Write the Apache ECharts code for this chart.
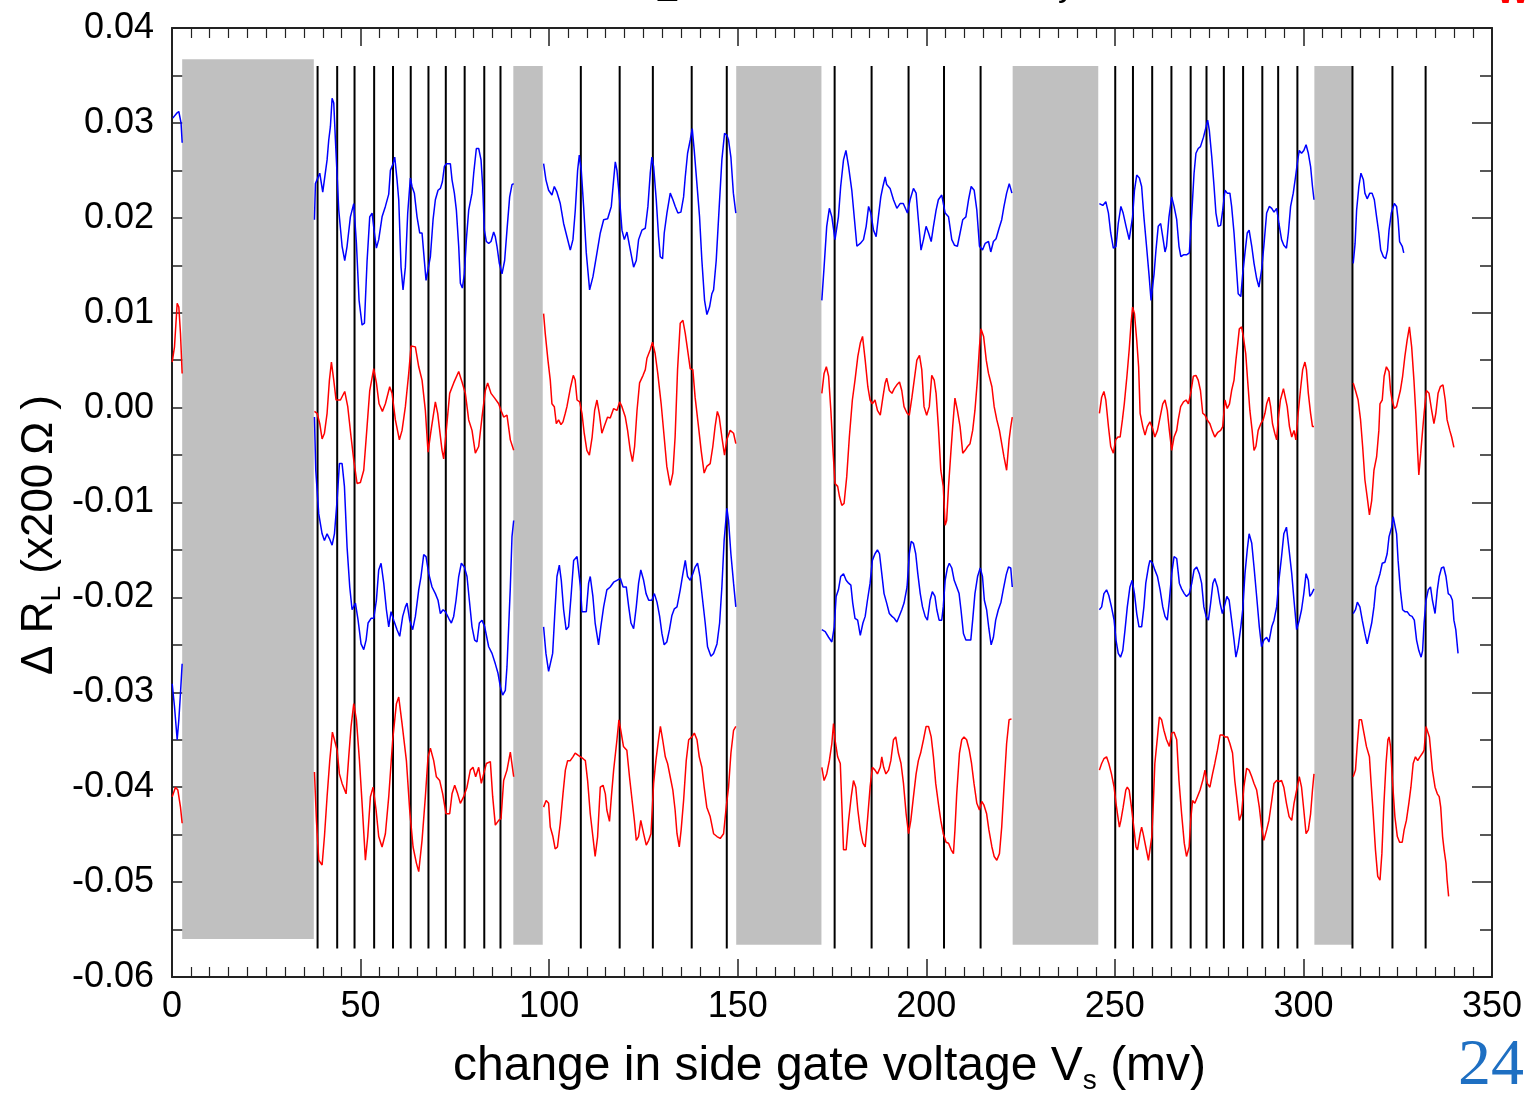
<!DOCTYPE html>
<html><head><meta charset="utf-8">
<script src="https://cdn.jsdelivr.net/npm/echarts@6/dist/echarts.min.js"></script>
<style>html,body{margin:0;padding:0;background:#fff}#c{width:1527px;height:1102px}</style>
</head><body><div id="c"></div>
<script>
// ---- axis ticks ----
const xTicks = [0, 50, 100, 150, 200, 250, 300, 350];
const yTicks = [-0.06, -0.05, -0.04, -0.03, -0.02, -0.01, 0.00, 0.01, 0.02, 0.03, 0.04];

// ---- shaded (gray) bands: [xStart, xEnd, yTop, yBottom] ----
const grayBands = [
  [2.7, 37.6, 0.0367, -0.0560],
  [90.5, 98.3, 0.0360, -0.0566],
  [149.6, 172.2, 0.0360, -0.0566],
  [222.9, 245.6, 0.0360, -0.0566],
  [302.9, 313.0, 0.0360, -0.0566]
];

// ---- vertical marker lines (x positions) ----
const vLines = [38.6, 43.8, 48.4, 53.6, 58.6, 63.3, 68.0, 72.6, 77.6, 82.8, 87.1,
  108.4, 118.7, 127.5, 137.8, 147.1, 175.7, 185.5, 195.3, 204.7, 214.4,
  250.1, 254.8, 259.9, 265.0, 270.1, 274.3, 278.9, 284.0, 289.1, 293.3, 298.4,
  313.0, 323.6, 332.4];
const vLineTop = 0.0360;
const vLineBottom = -0.0570;

// ---- curve 1 (blue, upper) ----
const blueTop0 = [[0.2,0.0305],[1.2,0.0310],[1.8,0.0312],[2.4,0.0300],[2.7,0.0279]];
const blueTop1 = [[37.77,0.0198],[38.03,0.0236],[39.18,0.0247],[39.97,0.0227],[40.42,0.0226],[41.12,0.0261],[41.56,0.0282],[42.0,0.0296],[42.45,0.0326],[42.89,0.0321],[43.33,0.0282],[44.22,0.0208],[45.1,0.0170],[45.8,0.0155],[46.42,0.0170],[47.3,0.0201],[48.19,0.0215],[48.9,0.0173],[49.6,0.0113],[50.4,0.0087],[51.02,0.0089],[51.72,0.0154],[52.43,0.0201],[53.05,0.0205],[53.67,0.0184],[54.2,0.0168],[54.81,0.0177],[55.7,0.0201],[56.58,0.0212],[57.47,0.0225],[57.91,0.0250],[58.62,0.0257],[59.06,0.0264],[59.67,0.0240],[60.12,0.0219],[60.73,0.0148],[61.26,0.0124],[61.88,0.0148],[62.5,0.0205],[63.2,0.0242],[63.64,0.0233],[64.26,0.0226],[64.97,0.0201],[65.68,0.0184],[66.3,0.0184],[66.74,0.0163],[67.36,0.0134],[67.89,0.0134],[68.51,0.0159],[69.22,0.0198],[69.83,0.0219],[70.54,0.0229],[71.16,0.0231],[71.69,0.0238],[72.22,0.0254],[72.75,0.0257],[73.81,0.0257],[74.25,0.0240],[74.87,0.0226],[75.4,0.0208],[76.02,0.0170],[76.46,0.0131],[76.99,0.0126],[77.52,0.0141],[78.05,0.0177],[78.67,0.0208],[79.55,0.0226],[80.0,0.0247],[80.7,0.0273],[81.32,0.0273],[81.94,0.0261],[82.38,0.0233],[82.82,0.0187],[83.35,0.0175],[83.97,0.0173],[84.59,0.0175],[85.29,0.0185],[85.73,0.0180],[86.17,0.0170],[86.79,0.0152],[87.5,0.0141],[88.2,0.0155],[88.82,0.0187],[89.53,0.0222],[90.15,0.0235],[90.6,0.0236]];
const blueTop2 = [[98.53,0.0257],[99.15,0.0240],[99.86,0.0229],[100.74,0.0224],[101.37,0.0233],[102.07,0.0227],[102.95,0.0215],[103.84,0.0194],[104.72,0.0180],[105.61,0.0166],[106.31,0.0177],[106.93,0.0208],[107.55,0.0250],[108.0,0.0266],[108.52,0.0250],[109.14,0.0212],[109.85,0.0163],[110.73,0.0124],[111.62,0.0138],[112.68,0.0163],[113.56,0.0184],[114.45,0.0198],[115.51,0.0199],[116.48,0.0212],[117.1,0.0240],[117.54,0.0259],[117.98,0.0250],[118.69,0.0219],[119.31,0.0187],[119.93,0.0177],[120.63,0.0185],[121.34,0.0170],[122.4,0.0148],[123.1,0.0155],[123.72,0.0177],[124.6,0.0187],[125.49,0.0189],[126.19,0.0212],[126.81,0.0247],[127.25,0.0264],[127.7,0.0254],[128.4,0.0219],[129.02,0.0180],[129.46,0.0159],[130.08,0.0157],[130.52,0.0184],[131.23,0.0205],[132.11,0.0226],[132.82,0.0219],[133.44,0.0212],[134.14,0.0205],[134.94,0.0206],[135.65,0.0222],[136.09,0.0243],[136.71,0.0268],[137.41,0.0282],[137.94,0.0294],[138.47,0.0271],[139.18,0.0236],[139.88,0.0201],[140.5,0.0155],[141.21,0.0113],[141.83,0.0098],[142.53,0.0106],[143.15,0.0120],[143.6,0.0124],[144.3,0.0155],[145.1,0.0212],[145.8,0.0261],[146.51,0.0289],[147.13,0.0287],[147.57,0.0282],[148.19,0.0264],[148.85,0.0226],[149.5,0.0205]];
const blueTop3 = [[172.3,0.0113],[172.9,0.0148],[173.6,0.0191],[174.3,0.0210],[174.96,0.0201],[175.8,0.0177],[176.7,0.0201],[177.3,0.0233],[178.05,0.0261],[178.7,0.0271],[179.4,0.0254],[180.25,0.0229],[180.96,0.0198],[181.6,0.0170],[182.5,0.0173],[183.35,0.0177],[184.06,0.0191],[184.7,0.0212],[185.3,0.0205],[186.0,0.0187],[186.7,0.0180],[187.3,0.0201],[187.94,0.0222],[188.5,0.0233],[189.1,0.0243],[189.5,0.0235],[190.4,0.0231],[191.3,0.0219],[192.2,0.0210],[193.05,0.0215],[193.9,0.0215],[195.0,0.0205],[195.7,0.0219],[196.6,0.0231],[197.3,0.0226],[197.9,0.0198],[198.6,0.0166],[199.25,0.0177],[199.95,0.0191],[200.6,0.0184],[201.3,0.0175],[201.9,0.0191],[202.6,0.0208],[203.2,0.0219],[204.1,0.0224],[205.0,0.0205],[205.9,0.0201],[206.76,0.0177],[207.5,0.0171],[208.25,0.0170],[208.96,0.0184],[209.67,0.0198],[210.5,0.0201],[211.2,0.0219],[211.9,0.0233],[212.7,0.0229],[213.4,0.0208],[214.1,0.0170],[214.9,0.0166],[215.6,0.0173],[216.5,0.0175],[217.1,0.0164],[217.8,0.0175],[218.5,0.0178],[219.3,0.0189],[220.0,0.0198],[220.6,0.0212],[221.3,0.0226],[222.0,0.0236],[222.7,0.0226]];
const blueTop4 = [[245.9,0.0215],[246.8,0.0213],[247.6,0.0217],[248.3,0.0205],[248.9,0.0184],[249.6,0.0168],[250.3,0.0170],[250.9,0.0194],[251.6,0.0212],[252.2,0.0205],[252.97,0.0191],[253.8,0.0177],[254.3,0.0178],[254.7,0.0201],[255.2,0.0229],[255.8,0.0245],[256.5,0.0242],[257.1,0.0233],[257.7,0.0201],[258.4,0.0170],[259.1,0.0138],[259.6,0.0113],[259.9,0.0124],[260.4,0.0141],[260.9,0.0166],[261.5,0.0191],[262.15,0.0194],[262.7,0.0180],[263.3,0.0164],[263.7,0.0170],[264.35,0.0201],[265.07,0.0222],[265.7,0.0212],[266.4,0.0198],[267.0,0.0170],[267.5,0.0159],[268.2,0.0161],[269.0,0.0161],[269.75,0.0163],[270.4,0.0205],[271.0,0.0247],[271.5,0.0268],[272.1,0.0273],[272.7,0.0275],[273.5,0.0285],[274.2,0.0296],[274.6,0.0303],[275.05,0.0292],[275.7,0.0264],[276.3,0.0233],[276.8,0.0205],[277.4,0.0191],[278.05,0.0192],[278.6,0.0208],[279.2,0.0229],[279.8,0.0226],[280.5,0.0226],[280.96,0.0212],[281.6,0.0184],[282.1,0.0155],[282.7,0.0120],[283.4,0.0117],[283.9,0.0141],[284.5,0.0163],[285.1,0.0184],[285.6,0.0187],[286.3,0.0170],[286.9,0.0152],[287.6,0.0136],[288.2,0.0127],[288.9,0.0145],[289.5,0.0170],[290.25,0.0205],[290.95,0.0212],[291.6,0.0210],[292.2,0.0206],[292.9,0.0210],[293.5,0.0194],[294.2,0.0177],[294.8,0.0171],[295.5,0.0168],[296.0,0.0184],[296.6,0.0212],[297.3,0.0226],[297.9,0.0243],[298.5,0.0261],[298.9,0.0271],[299.5,0.0268],[300.1,0.0271],[300.7,0.0277],[301.3,0.0268],[301.9,0.0254],[302.4,0.0233],[302.8,0.0219]];
const blueTop5 = [[313.2,0.0152],[313.7,0.0173],[314.1,0.0208],[314.7,0.0233],[315.25,0.0247],[315.9,0.0240],[316.3,0.0226],[316.9,0.0220],[317.6,0.0226],[318.2,0.0226],[318.8,0.0219],[319.4,0.0201],[320.0,0.0184],[320.5,0.0166],[321.2,0.0159],[321.8,0.0157],[322.3,0.0166],[322.7,0.0187],[323.3,0.0205],[324.1,0.0215],[324.7,0.0212],[325.1,0.0198],[325.5,0.0175],[326.2,0.0170],[326.6,0.0163]];

// ---- curve 2 (red, upper) ----
const redTop0 = [[0.05,0.0048],[0.66,0.0064],[1.37,0.0110],[1.81,0.0106],[2.25,0.0078],[2.69,0.0036]];
const redTop1 = [[37.77,-0.0004],[38.47,-0.0006],[39.18,-0.0017],[39.8,-0.0033],[40.42,-0.0027],[41.12,-0.0006],[41.74,0.0029],[42.27,0.0048],[42.89,0.0029],[43.5,0.0008],[44.66,0.0008],[45.8,0.0017],[46.6,0.0001],[47.48,-0.0031],[48.19,-0.0055],[49.07,-0.0080],[49.95,-0.0079],[50.84,-0.0066],[51.72,-0.0020],[52.43,0.0018],[53.49,0.0041],[54.2,0.0026],[54.9,0.0004],[55.79,-0.0004],[56.58,0.0004],[57.73,0.0022],[58.35,0.0015],[59.23,-0.0013],[60.29,-0.0034],[61.0,-0.0024],[61.88,0.0001],[62.77,0.0036],[63.39,0.0065],[64.53,0.0064],[65.42,0.0043],[66.3,0.0029],[67.18,-0.0003],[67.89,-0.0047],[68.69,-0.0024],[69.83,0.0006],[70.45,-0.0006],[71.6,-0.0045],[72.04,-0.0054],[72.66,-0.0027],[73.63,0.0015],[74.69,0.0026],[76.02,0.0038],[76.9,0.0027],[77.78,0.0015],[78.67,-0.0013],[79.55,-0.0024],[80.43,-0.0048],[81.32,-0.0041],[82.2,-0.0010],[83.08,0.0018],[83.7,0.0026],[84.59,0.0015],[85.56,0.0010],[86.62,0.0004],[87.24,-0.0003],[87.94,-0.0010],[88.82,-0.0008],[89.71,-0.0034],[90.6,-0.0045]];
const redTop2 = [[98.53,0.0099],[98.97,0.0078],[99.68,0.0050],[100.3,0.0029],[100.74,0.0004],[101.37,0.0001],[101.9,-0.0017],[102.5,-0.0013],[103.14,-0.0018],[103.67,-0.0015],[104.28,-0.0006],[104.72,0.0001],[105.7,0.0022],[106.4,0.0034],[106.9,0.0029],[107.4,0.0008],[108.1,0.0006],[108.7,-0.0006],[109.3,-0.0027],[110.0,-0.0045],[110.67,-0.0050],[111.4,-0.0031],[112.06,-0.0003],[112.68,0.0008],[113.3,-0.0006],[113.98,-0.0027],[114.6,-0.0020],[115.5,-0.0010],[116.2,-0.0011],[117.1,-0.0001],[117.98,-0.0003],[118.7,0.0006],[119.3,0.0001],[120.2,-0.0010],[120.8,-0.0024],[121.5,-0.0045],[122.1,-0.0057],[122.66,-0.0041],[123.3,-0.0003],[123.98,0.0026],[124.9,0.0034],[125.5,0.0040],[125.93,0.0052],[126.8,0.0061],[127.4,0.0069],[128.1,0.0057],[128.8,0.0036],[129.7,0.0004],[130.5,-0.0031],[131.2,-0.0062],[132.1,-0.0082],[132.8,-0.0069],[133.4,-0.0031],[134.05,0.0040],[134.76,0.0089],[135.47,0.0092],[136.1,0.0078],[136.7,0.0061],[137.4,0.0041],[138.1,0.0040],[138.7,0.0011],[139.6,-0.0020],[140.3,-0.0045],[141.1,-0.0069],[141.8,-0.0062],[142.7,-0.0059],[143.4,-0.0041],[144.0,-0.0020],[144.6,-0.0004],[145.1,-0.0010],[145.8,-0.0031],[146.5,-0.0050],[147.1,-0.0034],[148.0,-0.0024],[148.9,-0.0027],[149.5,-0.0038]];
const redTop3 = [[172.3,0.0015],[172.9,0.0036],[173.5,0.0043],[174.1,0.0033],[174.7,-0.0003],[175.2,-0.0041],[175.8,-0.0080],[176.5,-0.0083],[177.0,-0.0094],[177.6,-0.0103],[178.2,-0.0101],[178.9,-0.0073],[179.6,-0.0031],[180.4,0.0008],[181.1,0.0029],[181.85,0.0054],[182.5,0.0068],[183.1,0.0075],[183.8,0.0050],[184.5,0.0022],[185.1,0.0008],[185.7,0.0004],[186.4,0.0008],[187.05,-0.0003],[187.8,-0.0008],[188.5,0.0011],[189.1,0.0026],[189.5,0.0031],[190.2,0.0018],[190.9,0.0015],[191.5,0.0020],[192.2,0.0024],[192.9,0.0027],[193.5,0.0018],[194.1,0.0001],[194.9,-0.0006],[195.5,-0.0008],[196.2,0.0011],[196.8,0.0029],[197.5,0.0050],[198.2,0.0055],[198.8,0.0040],[199.4,0.0001],[200.1,-0.0008],[200.8,0.0001],[201.45,0.0034],[202.1,0.0029],[202.6,0.0015],[203.2,-0.0020],[203.85,-0.0066],[204.5,-0.0083],[205.0,-0.0124],[205.4,-0.0119],[205.9,-0.0083],[206.5,-0.0048],[207.0,-0.0020],[207.6,0.0010],[208.25,-0.0003],[208.96,-0.0020],[209.67,-0.0048],[210.3,-0.0045],[210.95,-0.0041],[211.6,-0.0038],[212.3,-0.0024],[212.9,-0.0003],[213.55,0.0029],[214.1,0.0064],[214.5,0.0083],[215.2,0.0075],[215.9,0.0050],[216.5,0.0036],[217.4,0.0022],[218.0,0.0001],[218.7,-0.0013],[219.4,-0.0024],[220.0,-0.0038],[220.6,-0.0052],[221.3,-0.0066],[221.95,-0.0034],[222.4,-0.0020],[222.8,-0.0010]];
const redTop4 = [[245.9,-0.0006],[246.5,0.0011],[247.1,0.0017],[247.6,0.0008],[248.3,-0.0020],[248.9,-0.0041],[249.6,-0.0048],[250.2,-0.0034],[250.8,-0.0031],[251.4,-0.0031],[252.0,-0.0013],[252.5,0.0004],[253.2,0.0033],[253.8,0.0061],[254.3,0.0089],[254.7,0.0106],[255.2,0.0099],[255.8,0.0071],[256.3,0.0043],[256.7,-0.0006],[257.4,-0.0020],[258.0,-0.0029],[258.6,-0.0020],[259.3,-0.0015],[260.0,-0.0022],[260.6,-0.0031],[261.3,-0.0024],[262.0,-0.0010],[262.7,0.0004],[263.3,0.0008],[263.9,-0.0003],[264.45,-0.0024],[265.07,-0.0045],[265.7,-0.0031],[266.4,-0.0024],[266.8,-0.0013],[267.45,0.0001],[268.2,0.0006],[268.9,0.0008],[269.5,0.0004],[270.1,0.0015],[270.8,0.0033],[271.5,0.0034],[272.1,0.0029],[272.7,0.0018],[273.3,-0.0006],[273.9,-0.0008],[274.5,-0.0013],[275.2,-0.0017],[275.8,-0.0024],[276.5,-0.0031],[277.3,-0.0026],[278.05,-0.0024],[278.6,-0.0020],[279.2,0.0008],[279.8,-0.0001],[280.4,0.0004],[280.96,0.0018],[281.6,0.0029],[282.1,0.0050],[282.6,0.0068],[283.0,0.0083],[283.6,0.0085],[284.05,0.0075],[284.7,0.0057],[285.2,0.0029],[285.8,-0.0003],[286.4,-0.0024],[286.9,-0.0045],[287.4,-0.0041],[288.0,-0.0024],[288.7,-0.0017],[289.3,-0.0013],[289.8,-0.0006],[290.25,0.0004],[290.85,0.0011],[291.3,0.0001],[291.8,-0.0017],[292.4,-0.0027],[292.9,-0.0034],[293.3,-0.0013],[293.9,0.0008],[294.7,0.0020],[295.1,0.0018],[295.7,0.0001],[296.3,-0.0020],[296.9,-0.0031],[297.5,-0.0024],[298.0,-0.0034],[298.6,-0.0006],[299.3,0.0022],[299.8,0.0040],[300.4,0.0048],[300.8,0.0040],[301.3,0.0015],[301.9,-0.0006],[302.4,-0.0020],[302.8,-0.0020]];
const redTop5 = [[313.2,0.0026],[313.8,0.0018],[314.5,0.0008],[315.15,-0.0013],[315.7,-0.0041],[316.3,-0.0076],[316.9,-0.0094],[317.5,-0.0113],[318.1,-0.0098],[318.7,-0.0066],[319.4,-0.0052],[320.0,-0.0024],[320.3,0.0004],[320.9,0.0008],[321.4,0.0033],[322.0,0.0043],[322.7,0.0038],[323.1,0.0018],[323.5,0.0008],[324.1,-0.0001],[324.7,0.0001],[325.1,0.0008],[325.7,0.0018],[326.3,0.0033],[326.9,0.0054],[327.5,0.0071],[328.1,0.0085],[328.7,0.0064],[329.3,0.0029],[329.8,-0.0006],[330.3,-0.0048],[330.6,-0.0071],[331.1,-0.0048],[331.6,-0.0024],[332.0,-0.0006],[332.6,0.0018],[333.3,0.0015],[334.0,-0.0003],[334.6,-0.0017],[335.1,-0.0006],[335.7,0.0015],[336.3,0.0022],[337.0,0.0024],[337.6,0.0008],[338.1,-0.0013],[338.8,-0.0024],[339.3,-0.0031],[339.9,-0.0042]];

// ---- curve 3 (blue, lower) ----
const blueLow0 = [[0.05,-0.0291],[0.66,-0.0315],[1.37,-0.0350],[1.81,-0.0329],[2.25,-0.0301],[2.69,-0.0270]];
const blueLow1 = [[37.77,-0.0010],[38.12,-0.0066],[38.91,-0.0112],[39.8,-0.0133],[40.42,-0.0140],[41.12,-0.0133],[41.74,-0.0138],[42.45,-0.0145],[43.07,-0.0133],[43.77,-0.0098],[44.39,-0.0059],[45.1,-0.0059],[45.72,-0.0083],[46.42,-0.0147],[47.13,-0.0189],[47.75,-0.0213],[48.63,-0.0206],[49.34,-0.0224],[50.13,-0.0249],[50.84,-0.0255],[51.46,-0.0245],[51.99,-0.0227],[52.79,-0.0222],[53.49,-0.0222],[54.2,-0.0203],[54.81,-0.0171],[55.43,-0.0164],[56.14,-0.0185],[56.85,-0.0213],[57.47,-0.0231],[58.08,-0.0215],[58.79,-0.0224],[59.67,-0.0234],[60.38,-0.0241],[61.17,-0.0220],[61.88,-0.0210],[62.32,-0.0206],[63.02,-0.0224],[63.82,-0.0234],[64.53,-0.0220],[65.42,-0.0192],[66.03,-0.0178],[66.74,-0.0155],[67.36,-0.0157],[68.07,-0.0175],[68.95,-0.0189],[69.83,-0.0196],[70.54,-0.0203],[71.16,-0.0217],[71.87,-0.0213],[72.48,-0.0215],[73.37,-0.0222],[74.07,-0.0227],[74.69,-0.0220],[75.31,-0.0203],[76.02,-0.0178],[76.72,-0.0164],[77.52,-0.0168],[78.22,-0.0178],[78.84,-0.0203],[79.55,-0.0231],[80.25,-0.0245],[80.87,-0.0247],[81.49,-0.0227],[82.2,-0.0224],[82.91,-0.0231],[83.97,-0.0252],[84.85,-0.0259],[85.73,-0.0270],[86.44,-0.0280],[87.06,-0.0294],[87.68,-0.0303],[88.38,-0.0298],[88.82,-0.0273],[89.27,-0.0231],[89.71,-0.0189],[90.15,-0.0136],[90.6,-0.0119]];
const blueLow2 = [[98.53,-0.0231],[99.15,-0.0259],[99.86,-0.0278],[100.3,-0.0280],[100.93,-0.0259],[101.46,-0.0220],[102.07,-0.0178],[102.7,-0.0166],[103.22,-0.0182],[103.84,-0.0213],[104.5,-0.0234],[105.16,-0.0231],[105.8,-0.0199],[106.5,-0.0161],[107.4,-0.0157],[107.8,-0.0159],[108.3,-0.0189],[108.7,-0.0215],[109.3,-0.0215],[109.85,-0.0215],[110.47,-0.0185],[110.9,-0.0178],[111.6,-0.0199],[112.2,-0.0227],[113.1,-0.0250],[113.7,-0.0231],[114.45,-0.0210],[115.3,-0.0192],[116.2,-0.0189],[117.1,-0.0184],[117.98,-0.0182],[118.9,-0.0180],[119.6,-0.0189],[120.45,-0.0189],[121.1,-0.0210],[121.7,-0.0227],[122.4,-0.0233],[123.1,-0.0210],[123.72,-0.0185],[124.3,-0.0171],[125.05,-0.0182],[125.7,-0.0196],[126.4,-0.0203],[127.25,-0.0203],[127.9,-0.0196],[128.6,-0.0205],[129.3,-0.0220],[129.9,-0.0238],[130.5,-0.0250],[131.2,-0.0247],[131.9,-0.0234],[132.55,-0.0219],[133.2,-0.0212],[133.9,-0.0210],[134.76,-0.0192],[135.47,-0.0175],[136.1,-0.0161],[136.7,-0.0178],[137.4,-0.0182],[138.1,-0.0175],[138.7,-0.0168],[139.35,-0.0164],[140.0,-0.0178],[140.7,-0.0203],[141.38,-0.0227],[142.0,-0.0252],[142.9,-0.0262],[143.6,-0.0259],[144.5,-0.0249],[145.2,-0.0227],[145.8,-0.0189],[146.4,-0.0140],[147.13,-0.0106],[147.57,-0.0119],[148.19,-0.0154],[148.9,-0.0185],[149.5,-0.0210]];
const blueLow3 = [[172.3,-0.0234],[173.2,-0.0236],[174.1,-0.0242],[174.96,-0.0247],[175.6,-0.0231],[176.1,-0.0199],[176.7,-0.0192],[177.3,-0.0178],[178.05,-0.0175],[178.75,-0.0182],[179.4,-0.0185],[180.0,-0.0187],[180.5,-0.0206],[181.1,-0.0222],[181.8,-0.0224],[182.5,-0.0240],[183.2,-0.0227],[183.8,-0.0220],[184.4,-0.0203],[185.1,-0.0185],[185.7,-0.0161],[186.4,-0.0154],[187.05,-0.0150],[187.6,-0.0154],[188.2,-0.0175],[188.8,-0.0196],[189.5,-0.0206],[190.2,-0.0217],[190.9,-0.0220],[191.5,-0.0222],[192.2,-0.0226],[192.9,-0.0219],[193.5,-0.0213],[194.1,-0.0206],[194.9,-0.0189],[195.5,-0.0154],[196.0,-0.0141],[196.6,-0.0143],[197.2,-0.0154],[197.75,-0.0175],[198.4,-0.0196],[199.0,-0.0210],[199.7,-0.0220],[200.3,-0.0224],[201.0,-0.0203],[201.6,-0.0194],[202.3,-0.0199],[202.8,-0.0213],[203.4,-0.0224],[204.1,-0.0224],[204.5,-0.0210],[205.0,-0.0182],[205.6,-0.0169],[206.1,-0.0164],[206.76,-0.0169],[207.4,-0.0182],[208.07,-0.0189],[208.7,-0.0196],[209.2,-0.0213],[209.85,-0.0238],[210.5,-0.0245],[211.2,-0.0245],[211.8,-0.0245],[212.3,-0.0224],[212.9,-0.0196],[213.6,-0.0178],[214.3,-0.0169],[214.9,-0.0178],[215.4,-0.0203],[216.0,-0.0213],[216.6,-0.0233],[217.2,-0.0250],[217.8,-0.0242],[218.4,-0.0224],[219.1,-0.0213],[219.8,-0.0205],[220.4,-0.0192],[221.2,-0.0176],[221.8,-0.0168],[222.4,-0.0169],[222.8,-0.0189]];
const blueLow4 = [[245.9,-0.0213],[246.5,-0.0210],[247.1,-0.0196],[247.8,-0.0192],[248.4,-0.0198],[249.1,-0.0210],[249.8,-0.0224],[250.3,-0.0245],[250.9,-0.0259],[251.5,-0.0263],[252.1,-0.0256],[252.7,-0.0234],[253.3,-0.0210],[254.0,-0.0189],[254.6,-0.0182],[255.2,-0.0196],[255.8,-0.0217],[256.4,-0.0231],[257.1,-0.0231],[257.7,-0.0210],[258.2,-0.0185],[258.9,-0.0168],[259.3,-0.0161],[260.0,-0.0164],[260.6,-0.0171],[261.3,-0.0178],[262.0,-0.0192],[262.7,-0.0210],[263.3,-0.0220],[263.9,-0.0224],[264.45,-0.0203],[265.07,-0.0175],[265.7,-0.0157],[266.4,-0.0159],[267.1,-0.0185],[267.7,-0.0191],[268.4,-0.0196],[269.0,-0.0199],[269.75,-0.0196],[270.4,-0.0185],[271.0,-0.0171],[271.7,-0.0168],[272.4,-0.0175],[273.0,-0.0185],[273.6,-0.0210],[274.2,-0.0220],[274.8,-0.0224],[275.4,-0.0206],[276.0,-0.0185],[276.5,-0.0180],[277.2,-0.0189],[277.9,-0.0206],[278.5,-0.0217],[279.0,-0.0210],[279.7,-0.0199],[280.3,-0.0203],[280.96,-0.0224],[281.6,-0.0245],[282.1,-0.0263],[282.7,-0.0252],[283.4,-0.0231],[283.9,-0.0213],[284.5,-0.0175],[285.1,-0.0150],[285.6,-0.0133],[286.3,-0.0143],[286.9,-0.0168],[287.6,-0.0199],[288.3,-0.0231],[288.9,-0.0252],[289.5,-0.0245],[290.25,-0.0242],[290.85,-0.0247],[291.6,-0.0231],[292.2,-0.0224],[292.9,-0.0210],[293.5,-0.0182],[294.2,-0.0157],[294.8,-0.0133],[295.5,-0.0126],[296.2,-0.0150],[296.9,-0.0175],[297.5,-0.0203],[298.2,-0.0234],[298.9,-0.0224],[299.5,-0.0213],[300.1,-0.0196],[300.7,-0.0175],[301.3,-0.0182],[301.7,-0.0199],[302.2,-0.0196],[302.8,-0.0191]];
const blueLow5 = [[313.2,-0.0217],[313.8,-0.0213],[314.3,-0.0205],[314.97,-0.0210],[315.6,-0.0224],[316.3,-0.0238],[316.9,-0.0249],[317.5,-0.0238],[318.1,-0.0227],[318.7,-0.0210],[319.2,-0.0189],[319.8,-0.0182],[320.3,-0.0175],[320.9,-0.0164],[321.6,-0.0163],[322.2,-0.0154],[322.7,-0.0136],[323.4,-0.0126],[323.8,-0.0115],[324.25,-0.0113],[324.7,-0.0133],[325.1,-0.0161],[325.7,-0.0192],[326.3,-0.0213],[326.9,-0.0215],[327.5,-0.0215],[328.2,-0.0219],[328.8,-0.0220],[329.4,-0.0224],[330.0,-0.0245],[330.6,-0.0256],[331.2,-0.0263],[331.6,-0.0256],[332.0,-0.0227],[332.5,-0.0203],[333.1,-0.0192],[333.7,-0.0189],[334.2,-0.0203],[334.9,-0.0217],[335.5,-0.0192],[336.0,-0.0178],[336.6,-0.0169],[337.2,-0.0168],[337.8,-0.0178],[338.4,-0.0196],[339.0,-0.0198],[339.5,-0.0203],[339.9,-0.0224],[340.4,-0.0234],[341.0,-0.0259]];

// ---- curve 4 (red, lower) ----
const redLow0 = [[0.05,-0.0410],[0.93,-0.0400],[1.55,-0.0403],[2.25,-0.0421],[2.69,-0.0438]];
const redLow1 = [[37.77,-0.0384],[38.3,-0.0435],[38.91,-0.0477],[39.8,-0.0482],[40.42,-0.0452],[41.12,-0.0410],[41.83,-0.0372],[42.53,-0.0342],[43.07,-0.0350],[43.77,-0.0361],[44.39,-0.0386],[45.1,-0.0396],[46.16,-0.0407],[46.86,-0.0368],[47.48,-0.0336],[48.19,-0.0312],[48.9,-0.0329],[49.69,-0.0371],[50.4,-0.0417],[51.28,-0.0477],[51.9,-0.0452],[52.61,-0.0410],[53.32,-0.0400],[54.11,-0.0424],[54.81,-0.0452],[55.7,-0.0463],[56.58,-0.0449],[57.47,-0.0410],[58.52,-0.0350],[59.5,-0.0312],[60.12,-0.0305],[61.0,-0.0333],[62.15,-0.0372],[63.02,-0.0424],[63.92,-0.0463],[64.8,-0.0480],[65.42,-0.0489],[66.3,-0.0456],[67.18,-0.0410],[67.89,-0.0368],[68.51,-0.0359],[69.39,-0.0372],[70.1,-0.0389],[70.98,-0.0393],[71.78,-0.0407],[72.66,-0.0428],[73.63,-0.0428],[74.25,-0.0407],[74.96,-0.0398],[75.75,-0.0407],[76.46,-0.0417],[77.34,-0.0410],[78.22,-0.0400],[79.1,-0.0382],[79.81,-0.0379],[80.52,-0.0389],[81.32,-0.0379],[82.02,-0.0396],[82.64,-0.0386],[83.35,-0.0375],[84.41,-0.0373],[85.03,-0.0410],[85.73,-0.0440],[86.62,-0.0435],[87.24,-0.0433],[87.94,-0.0393],[88.82,-0.0382],[89.71,-0.0363],[90.6,-0.0389]];
const redLow2 = [[98.53,-0.0421],[99.2,-0.0414],[99.86,-0.0417],[100.3,-0.0442],[101.0,-0.0452],[101.6,-0.0465],[102.2,-0.0463],[102.95,-0.0438],[103.67,-0.0407],[104.3,-0.0382],[104.9,-0.0372],[105.6,-0.0372],[106.3,-0.0368],[106.9,-0.0364],[107.55,-0.0366],[108.3,-0.0368],[109.0,-0.0370],[109.6,-0.0372],[110.2,-0.0393],[110.9,-0.0428],[111.6,-0.0452],[112.2,-0.0473],[112.85,-0.0452],[113.56,-0.0400],[114.3,-0.0398],[114.9,-0.0407],[115.3,-0.0424],[116.0,-0.0436],[116.5,-0.0410],[117.1,-0.0382],[117.98,-0.0350],[118.5,-0.0329],[119.0,-0.0340],[119.7,-0.0357],[120.6,-0.0361],[121.3,-0.0389],[122.0,-0.0414],[122.6,-0.0435],[123.1,-0.0456],[123.7,-0.0452],[124.3,-0.0435],[125.05,-0.0449],[125.75,-0.0461],[126.4,-0.0456],[127.0,-0.0449],[127.7,-0.0396],[128.3,-0.0372],[129.0,-0.0350],[129.5,-0.0336],[130.1,-0.0350],[130.8,-0.0368],[131.4,-0.0375],[132.1,-0.0389],[132.8,-0.0403],[133.4,-0.0424],[133.9,-0.0449],[134.5,-0.0463],[135.0,-0.0445],[135.65,-0.0414],[136.35,-0.0372],[137.0,-0.0350],[137.85,-0.0347],[138.5,-0.0343],[139.2,-0.0350],[139.8,-0.0368],[140.5,-0.0379],[141.1,-0.0400],[141.8,-0.0421],[142.7,-0.0431],[143.6,-0.0449],[144.5,-0.0452],[145.36,-0.0454],[146.25,-0.0449],[146.95,-0.0421],[147.57,-0.0400],[148.2,-0.0364],[148.9,-0.0340],[149.5,-0.0336]];
const redLow3 = [[172.3,-0.0379],[172.9,-0.0393],[173.6,-0.0386],[174.3,-0.0372],[174.96,-0.0354],[175.4,-0.0333],[175.8,-0.0350],[176.5,-0.0368],[177.2,-0.0375],[177.6,-0.0417],[178.05,-0.0466],[178.75,-0.0466],[179.4,-0.0435],[180.1,-0.0410],[180.7,-0.0393],[181.3,-0.0400],[181.85,-0.0424],[182.5,-0.0445],[183.2,-0.0459],[183.8,-0.0463],[184.4,-0.0435],[185.1,-0.0400],[185.7,-0.0379],[186.4,-0.0382],[187.05,-0.0386],[187.8,-0.0379],[188.2,-0.0368],[188.7,-0.0379],[189.3,-0.0386],[190.0,-0.0382],[190.6,-0.0372],[191.3,-0.0350],[191.9,-0.0347],[192.6,-0.0364],[193.3,-0.0375],[193.95,-0.0396],[194.65,-0.0428],[195.3,-0.0449],[195.9,-0.0435],[196.6,-0.0410],[197.3,-0.0386],[197.9,-0.0372],[198.5,-0.0364],[199.25,-0.0350],[199.95,-0.0336],[200.6,-0.0336],[201.3,-0.0347],[201.9,-0.0368],[202.5,-0.0396],[203.2,-0.0417],[203.85,-0.0435],[204.5,-0.0449],[205.25,-0.0458],[205.9,-0.0459],[206.6,-0.0466],[207.2,-0.0470],[207.6,-0.0445],[208.07,-0.0407],[208.8,-0.0364],[209.4,-0.0350],[210.0,-0.0347],[210.7,-0.0350],[211.4,-0.0361],[212.0,-0.0375],[212.65,-0.0396],[213.4,-0.0417],[214.1,-0.0424],[214.7,-0.0415],[215.3,-0.0419],[216.0,-0.0428],[216.6,-0.0445],[217.4,-0.0463],[218.0,-0.0473],[218.7,-0.0477],[219.4,-0.0470],[220.0,-0.0442],[220.6,-0.0400],[221.3,-0.0354],[221.95,-0.0329],[222.6,-0.0328]];
const redLow4 = [[245.9,-0.0382],[246.5,-0.0375],[247.1,-0.0370],[247.8,-0.0368],[248.4,-0.0375],[249.1,-0.0386],[249.8,-0.0400],[250.3,-0.0417],[250.8,-0.0431],[251.2,-0.0442],[251.6,-0.0435],[252.2,-0.0421],[252.9,-0.0403],[253.3,-0.0400],[253.8,-0.0403],[254.4,-0.0421],[255.1,-0.0445],[255.6,-0.0463],[256.0,-0.0466],[256.7,-0.0449],[257.1,-0.0442],[257.5,-0.0449],[258.2,-0.0463],[258.9,-0.0477],[259.3,-0.0477],[259.8,-0.0452],[260.2,-0.0417],[260.6,-0.0375],[261.3,-0.0347],[261.8,-0.0326],[262.4,-0.0329],[263.0,-0.0340],[263.7,-0.0350],[264.45,-0.0357],[265.07,-0.0343],[265.7,-0.0342],[266.4,-0.0350],[267.0,-0.0393],[267.7,-0.0428],[268.4,-0.0459],[269.0,-0.0473],[269.7,-0.0463],[270.1,-0.0435],[270.6,-0.0414],[271.2,-0.0417],[271.9,-0.0410],[272.6,-0.0403],[273.3,-0.0393],[273.9,-0.0382],[274.5,-0.0396],[275.2,-0.0400],[275.9,-0.0386],[276.5,-0.0375],[277.2,-0.0361],[277.9,-0.0345],[278.6,-0.0345],[279.2,-0.0347],[279.9,-0.0347],[280.5,-0.0354],[281.2,-0.0364],[281.8,-0.0393],[282.5,-0.0417],[283.0,-0.0435],[283.6,-0.0428],[284.2,-0.0400],[284.95,-0.0380],[285.6,-0.0382],[286.3,-0.0389],[286.9,-0.0396],[287.6,-0.0403],[288.3,-0.0421],[288.9,-0.0442],[289.5,-0.0456],[290.25,-0.0445],[290.85,-0.0435],[291.6,-0.0414],[292.2,-0.0396],[292.9,-0.0393],[293.6,-0.0394],[294.2,-0.0393],[294.8,-0.0400],[295.5,-0.0417],[296.2,-0.0431],[296.9,-0.0435],[297.5,-0.0417],[298.2,-0.0403],[298.9,-0.0389],[299.5,-0.0400],[300.1,-0.0424],[300.7,-0.0449],[301.3,-0.0445],[301.9,-0.0428],[302.4,-0.0403],[302.8,-0.0386]];
const redLow5 = [[313.2,-0.0389],[313.8,-0.0382],[314.3,-0.0354],[314.8,-0.0329],[315.4,-0.0329],[316.05,-0.0343],[316.7,-0.0357],[317.5,-0.0368],[317.9,-0.0393],[318.5,-0.0428],[319.1,-0.0466],[319.7,-0.0494],[320.3,-0.0498],[320.8,-0.0470],[321.3,-0.0421],[321.9,-0.0375],[322.4,-0.0350],[322.7,-0.0347],[323.1,-0.0357],[323.6,-0.0393],[324.25,-0.0431],[324.9,-0.0452],[325.5,-0.0458],[326.2,-0.0458],[326.7,-0.0445],[327.3,-0.0435],[327.95,-0.0417],[328.5,-0.0400],[329.1,-0.0375],[329.7,-0.0368],[330.3,-0.0372],[330.9,-0.0368],[331.6,-0.0364],[332.0,-0.0361],[332.5,-0.0336],[332.9,-0.0336],[333.4,-0.0347],[333.8,-0.0364],[334.2,-0.0382],[334.9,-0.0400],[335.5,-0.0407],[336.0,-0.0410],[336.4,-0.0421],[336.9,-0.0452],[337.3,-0.0466],[337.8,-0.0480],[338.1,-0.0498],[338.5,-0.0515]];

const curves = [
  { color: '#0000ff', segs: [blueTop0, blueTop1, blueTop2, blueTop3, blueTop4, blueTop5] },
  { color: '#ff0000', segs: [redTop0, redTop1, redTop2, redTop3, redTop4, redTop5] },
  { color: '#0000ff', segs: [blueLow0, blueLow1, blueLow2, blueLow3, blueLow4, blueLow5] },
  { color: '#ff0000', segs: [redLow0, redLow1, redLow2, redLow3, redLow4, redLow5] }
];

const FONT = '"Liberation Sans", Arial, Helvetica, sans-serif';
const chart = echarts.init(document.getElementById('c'), null, { renderer: 'canvas' });

const series = [];
series.push({
  type: 'custom', name: 'bands', z: 1, silent: true,
  data: grayBands,
  encode: { x: [0, 1], y: [2, 3] },
  renderItem: function (params, api) {
    const p1 = api.coord([api.value(0), api.value(2)]);
    const p2 = api.coord([api.value(1), api.value(3)]);
    return { type: 'rect', shape: { x: p1[0], y: p1[1], width: p2[0] - p1[0], height: p2[1] - p1[1] },
      style: { fill: '#c0c0c0' } };
  }
});
series.push({
  type: 'custom', name: 'vlines', z: 2, silent: true,
  data: vLines.map(v => [v, vLineTop, vLineBottom]),
  encode: { x: 0, y: [1, 2] },
  renderItem: function (params, api) {
    const p1 = api.coord([api.value(0), api.value(1)]);
    const p2 = api.coord([api.value(0), api.value(2)]);
    return { type: 'line', shape: { x1: p1[0], y1: p1[1], x2: p2[0], y2: p2[1] },
      style: { stroke: '#000', lineWidth: 2 } };
  }
});
curves.forEach(c => {
  c.segs.forEach(seg => {
    series.push({ type: 'line', data: seg, showSymbol: false, symbol: 'none', z: 3, silent: true,
      lineStyle: { color: c.color, width: 1.5 }, animation: false });
  });
});

function axisX(pos, showLabel) {
  return {
    type: 'value', position: pos, min: xTicks[0], max: xTicks[xTicks.length - 1], interval: 50,
    axisLine: { show: true, onZero: false, lineStyle: { color: '#222', width: 2 } },
    axisTick: { show: true, inside: true, length: 18, lineStyle: { color: '#222', width: 1.5 } },
    minorTick: { show: true, splitNumber: 10, length: 10, lineStyle: { color: '#222', width: 1.2 } },
    splitLine: { show: false }, minorSplitLine: { show: false },
    axisLabel: { show: showLabel, fontSize: 36, color: '#000', fontFamily: FONT, margin: 12 }
  };
}
function axisY(pos, showLabel) {
  return {
    type: 'value', position: pos, min: yTicks[0], max: yTicks[yTicks.length - 1], interval: 0.01,
    axisLine: { show: true, onZero: false, lineStyle: { color: '#222', width: 2 } },
    axisTick: { show: true, inside: true, length: 20, lineStyle: { color: '#222', width: 1.5 } },
    minorTick: { show: true, splitNumber: 2, length: 12, lineStyle: { color: '#222', width: 1.5 } },
    splitLine: { show: false }, minorSplitLine: { show: false },
    axisLabel: { show: showLabel, fontSize: 36, color: '#000', fontFamily: FONT, margin: 18,
      formatter: function (v) { if (Math.abs(v) < 1e-9) v = 0; return v.toFixed(2); } }
  };
}

chart.setOption({
  animation: false,
  backgroundColor: '#fff',
  grid: { left: 172, right: 35, top: 28, bottom: 125, containLabel: false },
  xAxis: [axisX('bottom', true), axisX('top', false)],
  yAxis: [axisY('left', true), axisY('right', false)],
  series: series,
  graphic: [
    { type: 'text', left: 453, top: 1043, z: 10,
      style: { text: '{a|change in side gate voltage V}{s|s}{a| (mv)}', fill: '#000',
        rich: { a: { fontSize: 48, fontFamily: FONT, fill: '#000' },
                s: { fontSize: 28, fontFamily: FONT, fill: '#000', padding: [28, 0, 0, 0] } } } },
    { type: 'text', x: 40, y: 535, rotation: Math.PI / 2, z: 10,
      style: { text: '{a|\u0394 R}{s|L}{a| (x200\u2009\u03A9 )}', align: 'center', verticalAlign: 'middle',
        rich: { a: { fontSize: 44, fontFamily: FONT, fill: '#000' },
                s: { fontSize: 28, fontFamily: FONT, fill: '#000', padding: [24, 0, 0, 0] } } } },
    { type: 'text', x: 1491, y: 1067, z: 10,
      style: { text: '24', fontSize: 66, fontFamily: '"Liberation Serif", "Times New Roman", serif',
        fill: '#1e6fc2', align: 'center', verticalAlign: 'middle' } },
    // cut-off fragments of a title line above the visible area
    { type: 'text', x: 658, y: 2, z: 10,
      style: { text: '_', fontSize: 34, fontFamily: FONT, fill: '#000', align: 'left', verticalAlign: 'bottom' } },
    { type: 'text', x: 1058, y: 4, z: 10,
      style: { text: 'y', fontSize: 34, fontFamily: FONT, fill: '#000', align: 'left', verticalAlign: 'bottom' } },
    { type: 'text', x: 1496, y: 11, z: 10,
      style: { text: 'W', fontSize: 36, fontWeight: 'bold', fontFamily: FONT, fill: '#ff0000', align: 'left', verticalAlign: 'bottom' } }
  ]
});
</script>
</body></html>
